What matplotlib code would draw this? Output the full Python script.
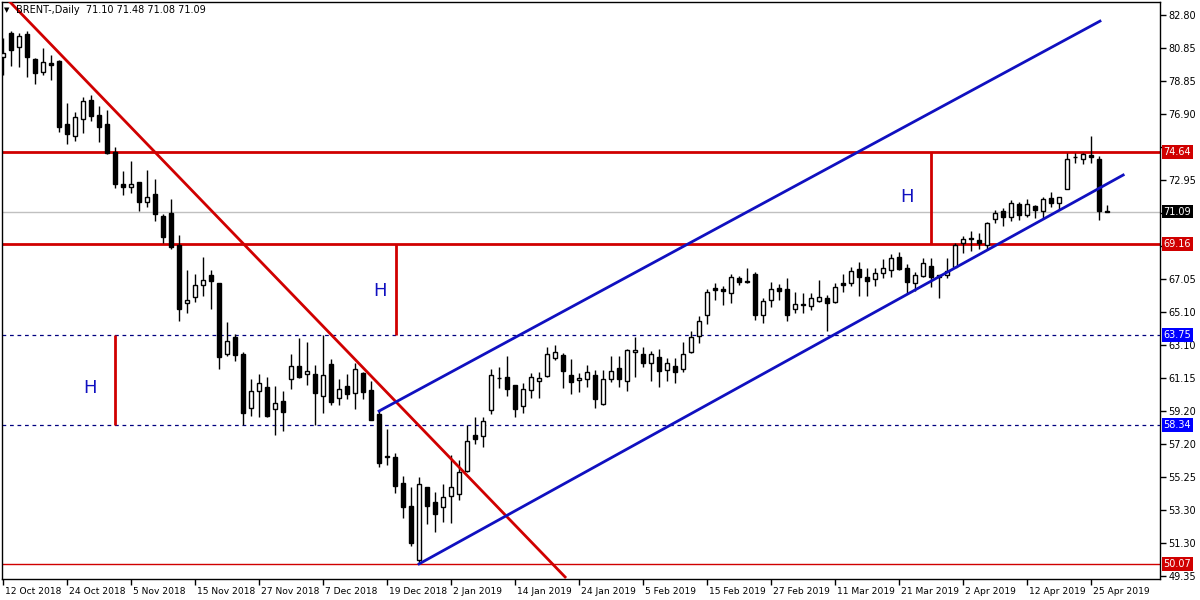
import numpy as np
import matplotlib
matplotlib.use("Agg")
import matplotlib.pyplot as plt
import matplotlib.transforms as mtransforms

# daily BRENT candles (oldest first)
opens = [80.31, 81.74, 80.90, 81.68, 80.19, 79.41, 79.95, 80.07, 76.31, 75.59,
         76.61, 77.74, 76.85, 76.31, 74.64, 72.73, 72.55, 72.85, 71.66, 72.14,
         70.82, 71.00, 69.09, 65.63, 65.99, 66.71, 67.31, 66.83, 62.59, 63.61,
         62.59, 59.37, 60.39, 60.62, 59.31, 59.79, 61.10, 61.88, 61.40, 61.40,
         60.09, 61.99, 59.97, 60.68, 60.27, 61.46, 60.45, 59.01, 56.51, 56.45,
         54.90, 53.53, 50.31, 54.66, 53.77, 53.47, 54.12, 54.24, 55.61, 57.76,
         57.70, 59.25, 61.16, 61.22, 60.74, 59.49, 60.45, 60.98, 61.28, 62.35,
         62.53, 61.34, 61.04, 61.10, 61.34, 59.61, 61.10, 61.76, 60.98, 62.71,
         62.59, 62.06, 62.41, 61.64, 61.88, 61.70, 62.71, 63.67, 64.92, 66.53,
         66.47, 66.23, 67.13, 66.95, 67.36, 64.92, 65.81, 66.53, 66.47, 65.28,
         65.57, 65.46, 65.75, 65.93, 65.69, 66.83, 66.83, 67.66, 67.19, 67.07,
         67.42, 67.60, 68.38, 67.72, 66.83, 67.25, 67.84, 67.31, 67.31, 67.78,
         69.21, 69.51, 69.39, 69.09, 70.64, 71.12, 70.76, 71.54, 70.88, 71.42,
         71.12, 71.90, 71.60, 72.43, 74.34, 74.22, 74.46, 74.22, 71.10]
highs = [81.44, 81.86, 81.74, 81.86, 80.25, 80.84, 80.42, 80.13, 77.56, 77.03,
         77.92, 78.04, 77.38, 77.14, 74.94, 73.50, 74.10, 72.85, 73.57, 73.03,
         70.94, 71.84, 69.69, 67.60, 67.36, 68.38, 67.60, 66.83, 64.50, 63.79,
         62.71, 61.10, 61.40, 61.22, 60.68, 60.39, 62.59, 63.55, 63.31, 61.94,
         63.73, 62.29, 61.10, 61.40, 62.06, 61.52, 60.98, 59.25, 58.12, 56.69,
         55.31, 54.66, 55.26, 54.66, 54.36, 54.84, 56.57, 56.27, 58.36, 58.84,
         58.84, 61.70, 61.82, 62.47, 60.74, 60.86, 61.46, 61.52, 63.01, 63.13,
         62.65, 62.29, 61.46, 61.94, 61.64, 61.64, 62.47, 62.47, 62.89, 63.61,
         63.01, 62.77, 62.89, 62.35, 62.35, 63.31, 63.96, 64.86, 66.47, 66.83,
         66.65, 67.36, 67.25, 67.72, 67.48, 65.93, 66.89, 66.77, 67.13, 66.29,
         66.23, 66.23, 67.01, 66.11, 66.83, 67.36, 67.78, 68.08, 67.72, 67.72,
         68.26, 68.56, 68.67, 67.96, 67.48, 68.32, 68.32, 67.31, 68.32, 69.21,
         69.63, 69.93, 69.81, 70.46, 71.18, 71.30, 71.78, 71.66, 71.84, 71.48,
         71.96, 72.25, 71.96, 74.58, 74.58, 74.58, 75.59, 74.40, 71.48]
lows = [79.23, 79.77, 79.71, 79.11, 78.69, 79.23, 78.93, 75.83, 75.12, 75.30,
        75.77, 76.49, 75.24, 74.55, 72.49, 72.08, 72.20, 71.12, 71.36, 70.52,
        69.21, 68.85, 64.56, 65.04, 65.72, 66.05, 65.28, 61.70, 62.47, 62.17,
        58.36, 58.89, 58.84, 58.84, 57.76, 58.00, 60.50, 61.16, 60.74, 58.36,
        59.07, 59.55, 59.55, 59.91, 59.31, 59.91, 58.66, 55.85, 55.97, 54.30,
        52.81, 51.14, 50.07, 52.45, 51.98, 52.57, 52.51, 53.88, 55.56, 57.22,
        57.05, 59.01, 60.56, 60.09, 58.84, 59.07, 59.97, 59.97, 61.22, 62.23,
        60.56, 60.21, 60.33, 60.62, 59.37, 59.55, 60.92, 60.62, 60.39, 61.22,
        61.82, 60.98, 60.62, 60.98, 60.86, 61.52, 62.65, 63.25, 64.38, 65.81,
        65.51, 65.63, 66.71, 66.83, 64.62, 64.44, 65.40, 65.81, 64.56, 65.04,
        65.04, 65.22, 65.69, 63.96, 65.63, 66.29, 66.65, 66.05, 66.05, 66.65,
        67.13, 67.19, 67.60, 66.17, 66.35, 67.19, 66.59, 65.93, 67.13, 67.78,
        68.62, 68.74, 68.85, 68.79, 70.40, 70.23, 70.52, 70.58, 70.76, 70.70,
        70.64, 71.36, 71.18, 72.43, 73.98, 73.92, 73.98, 70.58, 71.08]
closes = [80.54, 80.72, 81.56, 80.31, 79.35, 80.01, 79.83, 76.13, 75.71, 76.73,
          77.68, 76.79, 76.13, 74.58, 72.73, 72.55, 72.73, 71.66, 71.96, 70.94,
          69.57, 68.97, 65.28, 65.81, 66.71, 67.01, 66.95, 62.41, 63.37, 62.53,
          59.07, 60.39, 60.86, 58.89, 59.67, 59.13, 61.88, 61.22, 61.58, 60.27,
          61.34, 59.73, 60.51, 60.21, 61.70, 60.33, 58.66, 56.09, 56.45, 54.72,
          53.47, 51.32, 54.84, 53.53, 53.05, 54.06, 54.66, 55.56, 57.40, 57.52,
          58.60, 61.34, 61.16, 60.51, 59.31, 60.51, 61.22, 61.16, 62.59, 62.71,
          61.58, 60.92, 61.16, 61.52, 59.91, 61.10, 61.58, 61.10, 62.83, 62.83,
          62.06, 62.59, 61.58, 62.06, 61.52, 62.59, 63.61, 64.56, 66.29, 66.41,
          66.35, 67.19, 66.89, 66.89, 64.92, 65.75, 66.47, 66.35, 64.92, 65.57,
          65.51, 65.93, 65.99, 65.63, 66.59, 66.71, 67.54, 67.19, 66.95, 67.42,
          67.72, 68.32, 67.66, 66.89, 67.31, 68.02, 67.19, 67.19, 67.54, 69.09,
          69.45, 69.45, 69.21, 70.40, 71.00, 70.76, 71.60, 70.88, 71.54, 71.18,
          71.84, 71.60, 71.96, 74.22, 74.34, 74.52, 74.34, 71.12, 71.09]

date_labels = ["12 Oct 2018", "24 Oct 2018", "5 Nov 2018", "15 Nov 2018", "27 Nov 2018",
               "7 Dec 2018", "19 Dec 2018", "2 Jan 2019", "14 Jan 2019", "24 Jan 2019",
               "5 Feb 2019", "15 Feb 2019", "27 Feb 2019", "11 Mar 2019", "21 Mar 2019",
               "2 Apr 2019", "12 Apr 2019", "25 Apr 2019"]
date_bars = list(range(0, 8 * len(date_labels), 8))

price_ticks = [82.80, 80.85, 78.85, 76.90, 74.95, 72.95, 71.00, 69.05, 67.05,
               65.10, 63.10, 61.15, 59.20, 57.20, 55.25, 53.30, 51.30, 49.35]
# scale labels that sit under a price tag
hidden_ticks = [74.95, 71.00, 69.05]

# levels drawn on the chart
red_levels = [74.64, 69.16]
dashed_levels = [63.75, 58.34]
low_level = 50.07
last_price = 71.09

# trend lines: (bar, price) end points
down_trend = ([0.875, 70.25], [83.59, 49.29])
channel_low = ([52.0, 140.0], [50.07, 73.27])
channel_up = ([47.0, 137.1], [59.19, 82.45])

# "H" height markers: bar, bottom, top, label bar, label price
h_marks = [(14.0, 58.34, 63.75, 10.9, 60.56),
           (49.1, 63.75, 69.16, 47.1, 66.35),
           (116.0, 69.16, 74.64, 113.0, 71.96)]

RED = '#d00000'
BLUE = '#1010c0'

opens = np.array(opens)
closes = np.array(closes)
x = np.arange(len(opens))

fig = plt.figure(figsize=(12, 6), dpi=100)
ax = fig.add_axes([2 / 1200, 21 / 600, 1158 / 1200, 577 / 600])

# levels
for lv in red_levels:
    ax.axhline(lv, color=RED, lw=2, zorder=1)
for lv in dashed_levels:
    ax.axhline(lv, color='#000080', lw=0.9, ls=(0, (3, 3)), zorder=1)
ax.axhline(low_level, color=RED, lw=1, zorder=1)
ax.axhline(last_price, color='#c0c0c0', lw=1, zorder=1)

# candles
ax.vlines(x, lows, highs, color='black', lw=1, zorder=3)
up = closes >= opens
ax.bar(x[up], closes[up] - opens[up], bottom=opens[up], width=0.55,
       color='white', edgecolor='black', lw=1, zorder=4)
ax.bar(x[~up], opens[~up] - closes[~up], bottom=closes[~up], width=0.55,
       color='black', edgecolor='black', lw=1, zorder=4)

# trend lines
ax.plot(*down_trend, color=RED, lw=2, zorder=5)
ax.plot(*channel_low, color=BLUE, lw=2, zorder=5)
ax.plot(*channel_up, color=BLUE, lw=2, zorder=5)

for bx, lo, hi, tx, ty in h_marks:
    ax.vlines(bx, lo, hi, color=RED, lw=2, zorder=5)
    ax.text(tx, ty, "H", color=BLUE, fontsize=13, ha='center', va='center', zorder=6)

ax.set_xlim(-0.125, 144.6)
ax.set_ylim(49.17, 83.59)

ax.yaxis.tick_right()
ax.set_yticks(price_ticks)
ax.set_yticklabels(["" if p in hidden_ticks else "%.2f" % p for p in price_ticks])
ax.tick_params(axis='y', direction='out', length=4, width=1, pad=2, labelsize=7)

ax.set_xticks(date_bars)
ax.set_xticklabels(date_labels, ha='left')
ax.tick_params(axis='x', direction='out', length=4, width=1, pad=2, labelsize=6.6)
offset = mtransforms.ScaledTranslation(2 / 100, 0, fig.dpi_scale_trans)
for lab in ax.get_xticklabels():
    lab.set_transform(lab.get_transform() + offset)

for sp in ax.spines.values():
    sp.set_color('black')
    sp.set_linewidth(1)

# price tags on the right axis
trans = mtransforms.blended_transform_factory(ax.transAxes, ax.transData)
tags = [(red_levels[0], RED), (red_levels[1], RED), (last_price, 'black'),
        (dashed_levels[0], '#0000ff'), (dashed_levels[1], '#0000ff'), (low_level, RED)]
for val, col in tags:
    ax.text(1.003, val, "%.2f" % val, transform=trans, color='white', fontsize=7,
            ha='left', va='center', clip_on=False, zorder=10,
            bbox=dict(boxstyle='square,pad=0.2', fc=col, ec='none'))

fig.text(4 / 1200, 1 - 10 / 600, "\u25bc", fontsize=5, va='center', ha='left')
fig.text(16 / 1200, 1 - 10 / 600, "BRENT-,Daily  71.10 71.48 71.08 71.09",
         fontsize=7, va='center', ha='left')

fig.savefig("out.png", dpi=100)
